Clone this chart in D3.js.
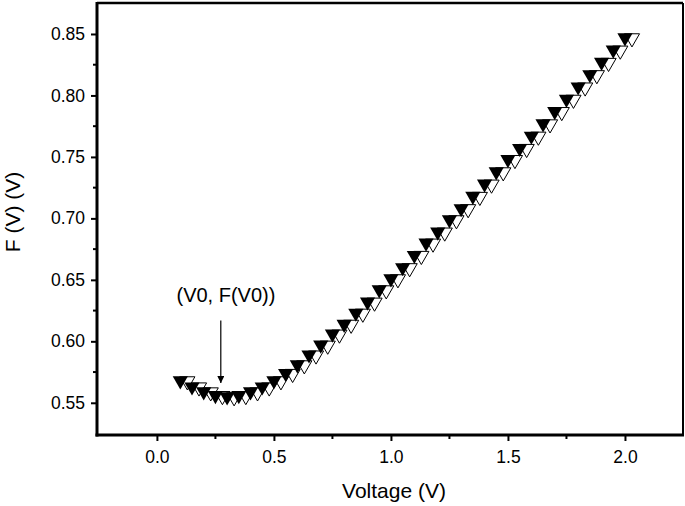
<!DOCTYPE html>
<html>
<head>
<meta charset="utf-8">
<script src="https://cdn.jsdelivr.net/npm/d3@7/dist/d3.min.js"></script>
<style>
  html, body { margin: 0; padding: 0; background: #fff; }
  svg { display: block; }
  text { font-family: Arial, "Liberation Sans", Helvetica, sans-serif; fill: #000; }
</style>
</head>
<body>
<svg id="chart" width="685" height="506"></svg>
<script>
// ---- data ----
const voltage = [0.10,0.15,0.20,0.25,0.30,0.35,0.40,0.45,0.50,0.55,0.60,0.65,0.70,0.75,0.80,0.85,0.90,0.95,1.00,
                 1.05,1.10,1.15,1.20,1.25,1.30,1.35,1.40,1.45,1.50,1.55,1.60,1.65,1.70,1.75,1.80,1.85,1.90,1.95,2.00];
const fValue  = [0.568,0.563,0.559,0.556,0.555,0.556,0.559,0.563,0.568,0.574,0.581,0.589,0.597,0.606,0.614,0.623,0.632,0.642,0.651,
                 0.660,0.670,0.680,0.689,0.699,0.708,0.718,0.728,0.738,0.748,0.757,0.767,0.777,0.787,0.797,0.807,0.817,0.827,0.837,0.847];
const xTicks = [0.0, 0.5, 1.0, 1.5, 2.0];
const xMinorTicks = [0.25, 0.75, 1.25, 1.75];
const yTicks = [0.55, 0.60, 0.65, 0.70, 0.75, 0.80, 0.85];
const yMinorTicks = [0.575, 0.625, 0.675, 0.725, 0.775, 0.825];
const xTitle = "Voltage (V)";
const yTitle = "F (V) (V)";
const annotationText = "(V0, F(V0))";
const annotationPoint = [0.273, 0.566];   // arrow tip
const annotationStart = [0.273, 0.617];   // arrow tail
const annotationLabel = [0.295, 0.632];   // label baseline position

// ---- layout ----
const svg = d3.select("#chart");
const L = 97, R = 683, T = 3, B = 435;
const x = d3.scaleLinear().domain([-0.256, 2.248]).range([L, R]);
const y = d3.scaleLinear().domain([0.5238, 0.8752]).range([B, T]);

// frame
svg.append("line").attr("x1", L).attr("x2", R).attr("y1", T).attr("y2", T)
  .attr("stroke", "#000").attr("stroke-width", 2.5);
svg.append("line").attr("x1", R).attr("x2", R).attr("y1", T).attr("y2", B)
  .attr("stroke", "#000").attr("stroke-width", 2);

// x axis
const xAxis = d3.axisBottom(x).tickValues(xTicks).tickFormat(d3.format(".1f")).tickSizeInner(6).tickSizeOuter(0).tickPadding(10);
const gx = svg.append("g").attr("transform", `translate(0,${B})`).call(xAxis);
gx.selectAll("line").attr("stroke", "#000").attr("stroke-width", 2);
gx.selectAll("text").attr("font-size", 17.5).attr("dy", "0.71em");
gx.select(".domain").remove();
gx.selectAll(".minor").data(xMinorTicks).enter().append("line")
  .attr("x1", d => x(d)).attr("x2", d => x(d)).attr("y1", 0).attr("y2", 4)
  .attr("stroke", "#000").attr("stroke-width", 2);

// y axis
const yAxis = d3.axisLeft(y).tickValues(yTicks).tickFormat(d3.format(".2f")).tickSizeInner(6).tickSizeOuter(0).tickPadding(6);
const gy = svg.append("g").attr("transform", `translate(${L},0)`).call(yAxis);
gy.selectAll("line").attr("stroke", "#000").attr("stroke-width", 2);
gy.selectAll("text").attr("font-size", 17.5);
gy.select(".domain").remove();
gy.selectAll(".minor").data(yMinorTicks).enter().append("line")
  .attr("y1", d => y(d)).attr("y2", d => y(d)).attr("x1", 0).attr("x2", -4)
  .attr("stroke", "#000").attr("stroke-width", 2);

// left & bottom axis lines (thick)
svg.append("line").attr("x1", L).attr("x2", L).attr("y1", T - 1).attr("y2", B + 1.5)
  .attr("stroke", "#000").attr("stroke-width", 3);
svg.append("line").attr("x1", L - 1.5).attr("x2", R + 1).attr("y1", B).attr("y2", B)
  .attr("stroke", "#000").attr("stroke-width", 3);

// titles
svg.append("text").attr("x", (L + R) / 2 + 4).attr("y", 498).attr("text-anchor", "middle")
  .attr("font-size", 21).text(xTitle);
svg.append("text").attr("transform", `translate(20,${(T + B) / 2 - 7}) rotate(-90)`)
  .attr("text-anchor", "middle").attr("font-size", 21).text(yTitle);

// markers: open shadow triangle then filled triangle per point
const tri = d3.symbol().type(d3.symbolTriangle).size(100);
const pts = voltage.map((v, i) => ({ v, f: fValue[i] }));
const mg = svg.append("g");
pts.forEach(p => {
  const cx = x(p.v), cy = y(p.f);
  mg.append("path").attr("d", tri())
    .attr("transform", `translate(${cx + 7},${cy + 0.5}) rotate(180)`)
    .attr("fill", "#fff").attr("stroke", "#000").attr("stroke-width", 1);
  mg.append("path").attr("d", tri())
    .attr("transform", `translate(${cx},${cy}) rotate(180)`)
    .attr("fill", "#000");
});

// annotation
svg.append("defs").append("marker").attr("id", "ah")
  .attr("viewBox", "0 0 10 10").attr("refX", 10).attr("refY", 5)
  .attr("markerWidth", 7).attr("markerHeight", 7).attr("markerUnits", "userSpaceOnUse")
  .attr("orient", "auto")
  .append("path").attr("d", "M0,0 L10,5 L0,10 Z").attr("fill", "#000");
svg.append("line")
  .attr("x1", x(annotationStart[0])).attr("y1", y(annotationStart[1]))
  .attr("x2", x(annotationPoint[0])).attr("y2", y(annotationPoint[1]))
  .attr("stroke", "#000").attr("stroke-width", 1.2).attr("marker-end", "url(#ah)");
svg.append("text").attr("x", x(annotationLabel[0])).attr("y", y(annotationLabel[1]))
  .attr("text-anchor", "middle").attr("font-size", 20).text(annotationText);
</script>
</body>
</html>
